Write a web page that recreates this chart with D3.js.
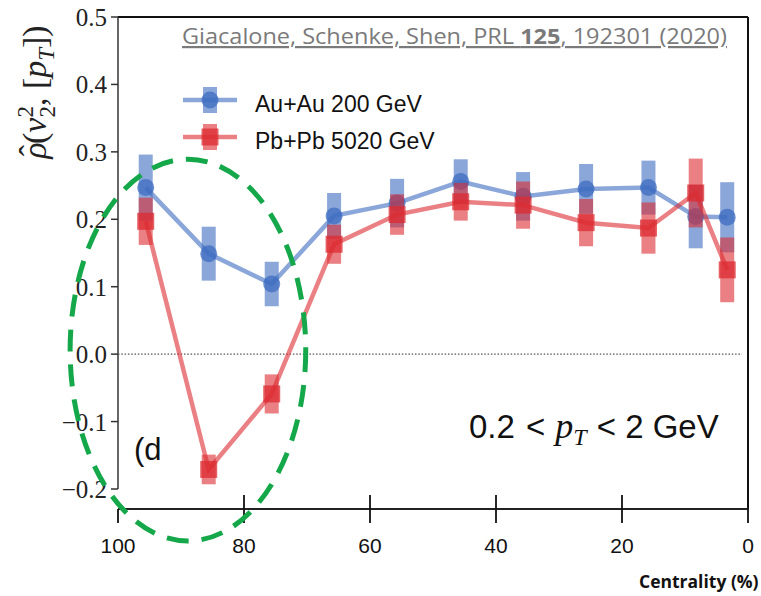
<!DOCTYPE html>
<html>
<head>
<meta charset="utf-8">
<script src="https://cdn.jsdelivr.net/npm/d3@7"></script>
<style>
  body { margin: 0; background: white; }
  svg { display: block; }
</style>
</head>
<body>
<script>
const width = 761;
const height = 596;

// data
const centrality = [95.6, 85.6, 75.6, 65.7, 55.7, 45.6, 35.7, 25.7, 15.8, 8.3, 3.3];
const auau = [0.247, 0.149, 0.104, 0.205, 0.224, 0.256, 0.234, 0.245, 0.247, 0.204, 0.203];
const auauErr = [0.049, 0.040, 0.033, 0.034, 0.036, 0.033, 0.036, 0.037, 0.040, 0.047, 0.052];
const pbpb = [0.197, -0.171, -0.059, 0.163, 0.207, 0.226, 0.221, 0.195, 0.187, 0.239, 0.125];
const pbpbErr = [0.035, 0.022, 0.029, 0.029, 0.030, 0.028, 0.035, 0.035, 0.038, 0.051, 0.048];

const xTicks = [100, 80, 60, 40, 20, 0];
const yTicks = [-0.2, -0.1, 0.0, 0.1, 0.2, 0.3, 0.4, 0.5];
const seriesNames = ["Au+Au 200 GeV", "Pb+Pb 5020 GeV"];

// highlighted region (centre and radii in data units)
const ellipse = {c: 88.9, v: 0.006, rc: 18.7, rv: 0.283};

const blue = "#3d6cc0";
const red = "#dc2b30";

const svg = d3.select("body").append("svg")
    .attr("width", width)
    .attr("height", height);

svg.append("rect").attr("width", width).attr("height", height).attr("fill", "white");

const x = d3.scaleLinear().domain([100, 0]).range([118, 748]);
const y = d3.scaleLinear().domain([-0.2, 0.5]).range([489, 17]);
const xAxisY = 509;

// frame
svg.append("line").attr("x1", x(100)).attr("x2", x(0)).attr("y1", y(0.5)).attr("y2", y(0.5))
    .attr("stroke", "#111").attr("stroke-width", 2);
svg.append("line").attr("x1", x(0)).attr("x2", x(0)).attr("y1", y(0.5)).attr("y2", xAxisY)
    .attr("stroke", "#111").attr("stroke-width", 2);
svg.append("line").attr("x1", x(100)).attr("x2", x(100)).attr("y1", y(0.5)).attr("y2", y(-0.2))
    .attr("stroke", "#333").attr("stroke-width", 1.5);

// y ticks
yTicks.forEach(function(d) {
  svg.append("line").attr("x1", x(100) - 7).attr("x2", x(100)).attr("y1", y(d)).attr("y2", y(d))
      .attr("stroke", "#333").attr("stroke-width", 1.5);
  svg.append("text")
      .attr("x", 107).attr("y", y(d) + 9)
      .attr("text-anchor", "end")
      .attr("font-family", "Liberation Serif")
      .attr("font-size", 25)
      .attr("fill", "#222")
      .text(d3.format(".1f")(d).replace("-", "\u2212"));
});

// zero line
svg.append("line").attr("x1", x(100)).attr("x2", x(0) - 6).attr("y1", y(0)).attr("y2", y(0))
    .attr("stroke", "#555").attr("stroke-width", 1.2).attr("stroke-dasharray", "1.5,1.8");

// x axis
svg.append("line").attr("x1", x(100)).attr("x2", x(0)).attr("y1", xAxisY).attr("y2", xAxisY)
    .attr("stroke", "#222").attr("stroke-width", 2);
xTicks.forEach(function(d) {
  const inner = (d === 100 || d === 0) ? 0 : 14;
  svg.append("line").attr("x1", x(d)).attr("x2", x(d)).attr("y1", xAxisY - inner).attr("y2", xAxisY + 14)
      .attr("stroke", "#111").attr("stroke-width", 1.8);
  svg.append("text")
      .attr("x", x(d)).attr("y", 553)
      .attr("text-anchor", "middle")
      .attr("font-family", "Liberation Sans")
      .attr("font-size", 21)
      .attr("fill", "#111")
      .text(d);
});

svg.append("text")
    .attr("x", 639).attr("y", 588)
    .attr("font-family", "Open Sans")
    .attr("font-weight", "bold")
    .attr("font-size", 17.5)
    .attr("fill", "#111")
    .text("Centrality (%)");

// y label
const yl = svg.append("text")
    .attr("transform", "translate(46,92) rotate(-90)")
    .attr("text-anchor", "middle")
    .attr("font-family", "Liberation Serif")
    .attr("font-size", 34)
    .attr("fill", "#222");
yl.append("tspan").attr("font-style", "italic").text("\u03C1");
yl.append("tspan").attr("dx", -14).attr("dy", -3).text("\u02C6");
yl.append("tspan").attr("dx", 1).attr("dy", 3).text("(");
yl.append("tspan").attr("font-style", "italic").text("v");
yl.append("tspan").attr("font-size", 23).attr("dy", -13).text("2");
yl.append("tspan").attr("font-size", 23).attr("dx", -11.5).attr("dy", 22).text("2");
yl.append("tspan").attr("dy", -9).text(", [");
yl.append("tspan").attr("font-style", "italic").text("p");
yl.append("tspan").attr("font-style", "italic").attr("font-size", 23).attr("dy", 8).text("T");
yl.append("tspan").attr("dy", -8).text("])");

// series
const series = [
  {name: seriesNames[0], vals: auau, errs: auauErr, color: blue, shape: "circle"},
  {name: seriesNames[1], vals: pbpb, errs: pbpbErr, color: red, shape: "square"}
];

const line = d3.line().x(d => x(d[0])).y(d => y(d[1]));

series.forEach(function(s) {
  const pts = centrality.map((c, i) => [c, s.vals[i], s.errs[i]]);
  const g = svg.append("g");
  g.selectAll("rect.err").data(pts).enter().append("rect")
      .attr("x", d => x(d[0]) - 7)
      .attr("width", 14)
      .attr("y", d => y(d[1] + d[2]))
      .attr("height", d => y(d[1] - d[2]) - y(d[1] + d[2]))
      .attr("fill", s.color).attr("fill-opacity", 0.6);
  g.append("path").datum(pts).attr("d", line)
      .attr("fill", "none").attr("stroke", s.color).attr("stroke-opacity", 0.6)
      .attr("stroke-width", 4.5);
  if (s.shape === "circle") {
    g.selectAll("circle").data(pts).enter().append("circle")
        .attr("cx", d => x(d[0])).attr("cy", d => y(d[1])).attr("r", 8.5)
        .attr("fill", s.color).attr("fill-opacity", 0.75);
  } else {
    g.selectAll("rect.mk").data(pts).enter().append("rect")
        .attr("x", d => x(d[0]) - 8.5).attr("y", d => y(d[1]) - 8.5)
        .attr("width", 17).attr("height", 17)
        .attr("fill", s.color).attr("fill-opacity", 0.75);
  }
});

// legend
series.forEach(function(s, i) {
  const ly = 100 + i * 37;
  const g = svg.append("g");
  g.append("rect").attr("x", 203).attr("y", ly - 13).attr("width", 14).attr("height", 26)
      .attr("fill", s.color).attr("fill-opacity", 0.6);
  g.append("line").attr("x1", 183).attr("x2", 237).attr("y1", ly).attr("y2", ly)
      .attr("stroke", s.color).attr("stroke-opacity", 0.6).attr("stroke-width", 4.5);
  if (s.shape === "circle") {
    g.append("circle").attr("cx", 210).attr("cy", ly).attr("r", 8.5)
        .attr("fill", s.color).attr("fill-opacity", 0.75);
  } else {
    g.append("rect").attr("x", 201.5).attr("y", ly - 8.5).attr("width", 17).attr("height", 17)
        .attr("fill", s.color).attr("fill-opacity", 0.75);
  }
  g.append("text").attr("x", 255).attr("y", ly + 12)
      .attr("font-family", "Liberation Sans").attr("font-size", 23).attr("fill", "#111")
      .text(s.name);
});

// citation
const cite = svg.append("text")
    .attr("x", 182).attr("y", 44)
    .attr("font-family", "Open Sans")
    .attr("font-size", 22)
    .attr("fill", "#7a7a7a")
    .attr("text-decoration", "underline")
    .attr("textLength", 545)
    .attr("lengthAdjust", "spacingAndGlyphs");
cite.append("tspan").text("Giacalone, Schenke, Shen, PRL ");
cite.append("tspan").attr("font-weight", "bold").text("125");
cite.append("tspan").text(", 192301 (2020)");

// panel annotations
svg.append("text").attr("x", 134).attr("y", 460)
    .attr("font-family", "Liberation Sans").attr("font-size", 31).attr("fill", "#111")
    .text("(d");

const pt = svg.append("text").attr("x", 469).attr("y", 438)
    .attr("font-family", "Liberation Sans").attr("font-size", 33).attr("fill", "#111");
pt.append("tspan").text("0.2 ");
pt.append("tspan").attr("dx", 2).text("<");
pt.append("tspan").attr("font-family", "Liberation Serif").attr("font-style", "italic")
    .attr("font-size", 36).attr("dx", 10).text("p");
pt.append("tspan").attr("font-family", "Liberation Serif").attr("font-style", "italic")
    .attr("font-size", 24).attr("dy", 7).text("T");
pt.append("tspan").attr("dy", -7).attr("dx", 10).text("<");
pt.append("tspan").text(" 2 GeV");

// dashed green ellipse
svg.append("ellipse")
    .attr("cx", x(ellipse.c)).attr("cy", y(ellipse.v))
    .attr("rx", x(ellipse.c - ellipse.rc) - x(ellipse.c))
    .attr("ry", y(ellipse.v - ellipse.rv) - y(ellipse.v))
    .attr("fill", "none")
    .attr("stroke", "#14a84a")
    .attr("stroke-width", 5)
    .attr("stroke-dasharray", "22,13");
</script>
</body>
</html>
